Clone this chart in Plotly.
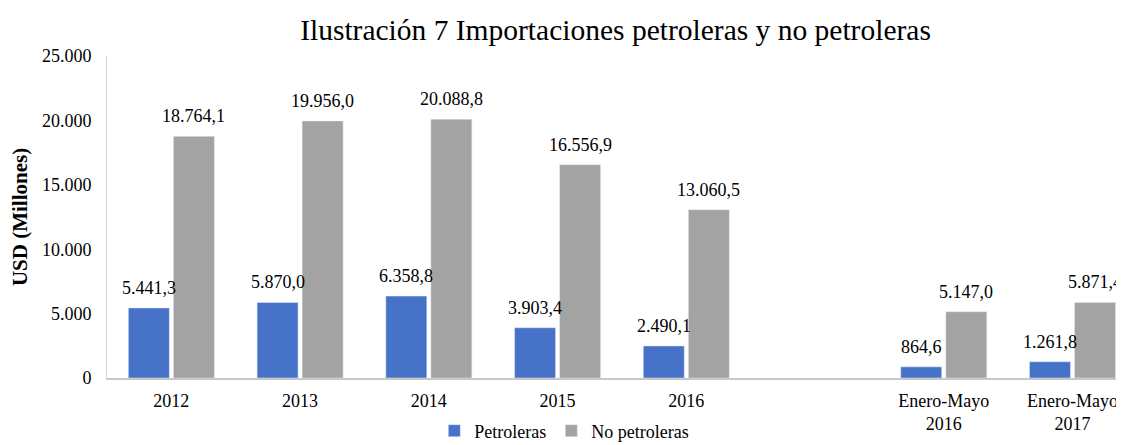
import plotly.graph_objects as go

# datos (millones de USD)
categorias = ["2012", "2013", "2014", "2015", "2016", " ",
              "Enero-Mayo<br>2016", "Enero-Mayo<br>2017"]
petroleras = [5441.3, 5870.0, 6358.8, 3903.4, 2490.1, None, 864.6, 1261.8]
no_petroleras = [18764.1, 19956.0, 20088.8, 16556.9, 13060.5, None, 5147.0, 5871.4]
y_ticks = [0, 5000, 10000, 15000, 20000, 25000]

FUENTE = "Liberation Serif"


def etiqueta(v):
    # formato español: 18.764,1
    s = f"{v:,.1f}"
    return s.replace(",", "X").replace(".", ",").replace("X", ".")


fig = go.Figure()

fig.add_trace(go.Bar(
    name="Petroleras",
    x=categorias,
    y=petroleras,
    marker=dict(color="#4673C8"),
))

fig.add_trace(go.Bar(
    name="No petroleras",
    x=categorias,
    y=no_petroleras,
    marker=dict(color="#A3A3A3"),
))

# etiquetas de datos encima de cada barra (x = índice de la categoría)
for serie, desplaz in ((petroleras, -22.5), (no_petroleras, 22.5)):
    for i, v in enumerate(serie):
        if v is None:
            continue
        fig.add_annotation(
            x=i, y=v, xref="x", yref="y",
            text=etiqueta(v), showarrow=False,
            xanchor="center", yanchor="bottom",
            xshift=desplaz, yshift=8,
            font=dict(family=FUENTE, size=18, color="#000000"),
        )

# la página añade 8 px de margen: la figura mide 1116x437
fig.update_layout(
    width=1116,
    height=437,
    separators=",.",
    paper_bgcolor="white",
    plot_bgcolor="white",
    font=dict(family=FUENTE, size=18, color="#000000"),
    title=dict(
        text="Ilustración 7 Importaciones petroleras y no petroleras",
        x=0.5, xref="paper", y=0.95, yref="container",
        xanchor="center", yanchor="middle",
        font=dict(family=FUENTE, size=29.5, color="#000000"),
    ),
    margin=dict(l=99, r=0, t=48, b=67),
    barmode="group",
    bargap=0.30,
    bargroupgap=0.09,
    showlegend=True,
    legend=dict(
        orientation="h",
        xref="container", x=0.4985, xanchor="center",
        yref="container", y=0.032, yanchor="middle",
        font=dict(family=FUENTE, size=18),
        itemwidth=30,
        tracegroupgap=0,
    ),
    xaxis=dict(
        type="category",
        range=[-0.5, 7.4],
        automargin=False,
        showgrid=False,
        showline=True,
        linecolor="#C8C8C8",
        linewidth=2,
        ticks="",
        ticklabelstandoff=5,
        tickfont=dict(family=FUENTE, size=18),
    ),
    yaxis=dict(
        range=[0, 25000],
        automargin=False,
        tickvals=y_ticks,
        tickformat=",d",
        showgrid=False,
        showline=True,
        linecolor="#D9D9D9",
        linewidth=1,
        zeroline=False,
        ticks="",
        ticklabelstandoff=11,
        tickfont=dict(family=FUENTE, size=18),
        title=dict(
            text="<b>USD (Millones)</b>",
            font=dict(family=FUENTE, size=21),
            standoff=12,
        ),
    ),
)

fig.write_html("out.html")
